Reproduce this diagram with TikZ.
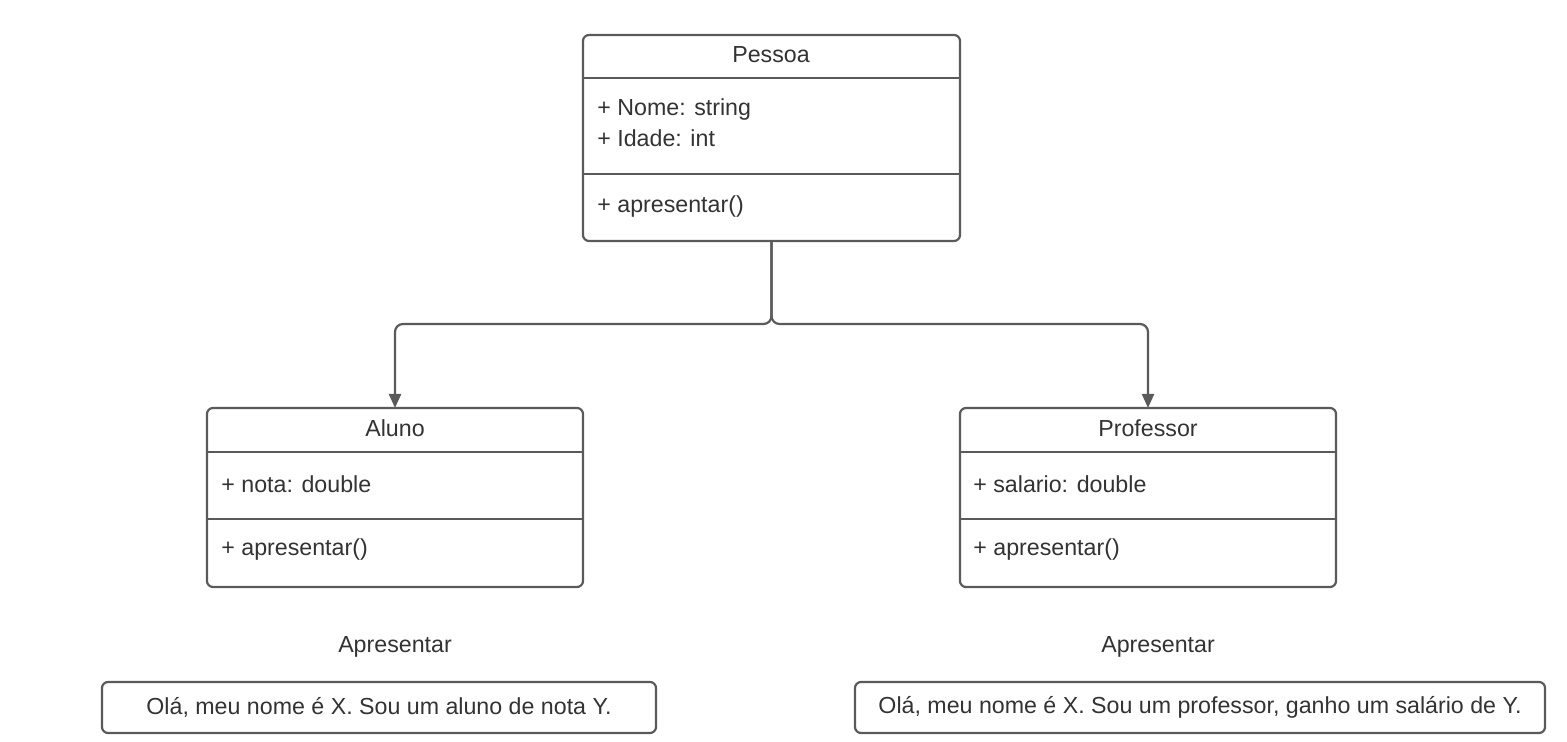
\documentclass[tikz,border=0pt]{standalone}
\usepackage{fontspec}
\setmainfont{Liberation Sans}
\usetikzlibrary{arrows.meta}
\definecolor{ln}{HTML}{5A5A5A}
\definecolor{tx}{HTML}{333333}
\begin{document}
\begin{tikzpicture}[x=0.5pt,y=-0.5pt,
  font=\fontsize{11.6}{13}\selectfont, text=tx,
  cls/.style={draw=ln, line width=1.1pt, rounded corners=3pt, anchor=north west, inner sep=0pt, outer sep=0pt, fill=white},
  sep/.style={draw=ln, line width=1.1pt},
  attr/.style={anchor=west, inner sep=0pt},
  msg/.style={draw=ln, line width=1.1pt, rounded corners=3pt, inner sep=0pt, minimum height=25.5pt},
  conn/.style={draw=ln, line width=1.1pt, rounded corners=4pt, -{Triangle[length=7pt,width=6pt]}}]
\useasboundingbox[fill=white] (0,0) rectangle (1567,742);

% Pessoa
\node[cls, minimum width=188.5pt, minimum height=103pt] (pessoa) at (583,35) {};
\draw[sep] (pessoa.west |- 0,78) -- (pessoa.east |- 0,78);
\draw[sep] (pessoa.west |- 0,174) -- (pessoa.east |- 0,174);
\node (ptitle) at (771,55) {Pessoa};
\node[attr] (pnome) at (597,110) {+ Nome: string};
\node[attr] (pidade) at (597,138) {+ Idade: int};
\node[attr] (pmet) at (597,207) {+ apresentar()};

% Aluno
\node[cls, minimum width=188pt, minimum height=89.5pt] (aluno) at (207,408) {};
\draw[sep] (aluno.west |- 0,452) -- (aluno.east |- 0,452);
\draw[sep] (aluno.west |- 0,519) -- (aluno.east |- 0,519);
\node (atitle) at (395,428) {Aluno};
\node[attr] (anota) at (221,484) {+ nota: double};
\node[attr] (amet) at (221,550) {+ apresentar()};

% Professor
\node[cls, minimum width=188pt, minimum height=89.5pt] (prof) at (960,408) {};
\draw[sep] (prof.west |- 0,452) -- (prof.east |- 0,452);
\draw[sep] (prof.west |- 0,519) -- (prof.east |- 0,519);
\node (prtitle) at (1148,428) {Professor};
\node[attr] (prsal) at (973,484) {+ salario: double};
\node[attr] (prmet) at (973,550) {+ apresentar()};

% connectors
\coordinate (j) at (pessoa.south |- 0,324);
\draw[conn] (pessoa.south) -- (j) -| (aluno.north);
\draw[conn] (pessoa.south) -- (j) -| (prof.north);

% messages
\node (lap) at (395,647) {Apresentar};
\node (rap) at (1158,647) {Apresentar};
\node[msg, minimum width=277pt] (lmsg) at (379,707.5) {Olá, meu nome é X. Sou um aluno de nota Y.};
\node[msg, minimum width=345pt] (rmsg) at (1200,707.5) {Olá, meu nome é X. Sou um professor, ganho um salário de Y.};
\end{tikzpicture}
\end{document}
